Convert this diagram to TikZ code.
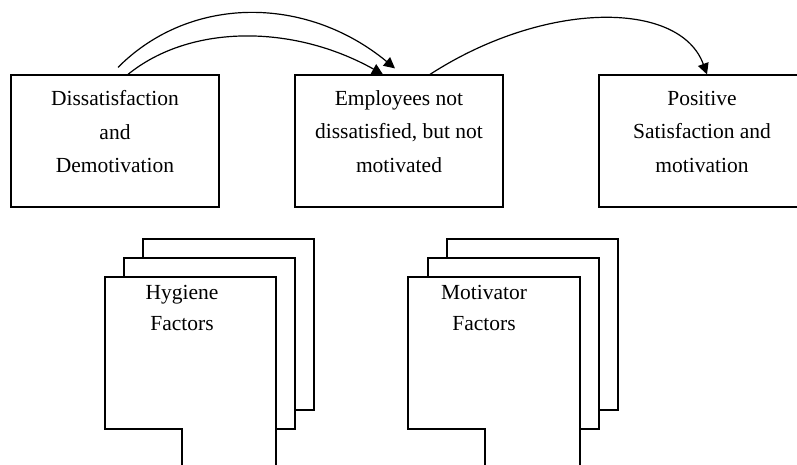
\documentclass[tikz,border=0pt]{standalone}
\usepackage{fontspec}
\setmainfont{Liberation Serif}
\usepackage{tikz}
\usetikzlibrary{positioning,arrows.meta}
\tikzstyle{state} = [rectangle, draw=black, line width=1.2pt, minimum width=208pt, minimum height=132pt, text depth=19pt, align=center, font=\fontsize{21.5}{33.5}\selectfont]
\tikzstyle{sheet} = [draw=black, line width=1.2pt, fill=white]
\tikzstyle{factor} = [align=center, font=\fontsize{21.5}{31}\selectfont]
\tikzstyle{arrow} = [line width=1.2pt, -{Triangle[length=11pt,width=11pt]}]

\begin{document}
\begin{tikzpicture}[x=1pt,y=-1pt]
          \useasboundingbox (0,0) rectangle (797,465);
          \node (dis) [state] at (115,141) {Dissatisfaction\\and\\Demotivation};
          \node (neutral) [state] at (399,141) {Employees not\\dissatisfied, but not\\motivated};
          \node (pos) [state, minimum width=206pt] at (702,141) {Positive\\Satisfaction and\\motivation};
          \draw [arrow] ([xshift=3pt,yshift=7pt]dis.north) .. controls (190,-5) and (306,-5) .. ([xshift=-4pt,yshift=6pt]neutral.north);
          \draw [arrow] ([xshift=13pt]dis.north) .. controls (190,24) and (293,24) .. ([xshift=-16pt]neutral.north);
          \draw [arrow] ([xshift=31pt]neutral.north) .. controls (545,0) and (680,0) .. ([xshift=5pt]pos.north);
          % hygiene stack
          \draw [sheet] (143,239) rectangle ++(171,171);
          \draw [sheet] (124,258) rectangle ++(171,171);
          \draw [sheet] (276,465) -- (276,277) -- (105,277) -- (105,429) -- (182,429) -- (182,465);
          \node (hyg) [factor] at (182,308) {Hygiene\\Factors};
          % motivator stack
          \draw [sheet] (447,239) rectangle ++(171,171);
          \draw [sheet] (428,258) rectangle ++(171,171);
          \draw [sheet] (580,465) -- (580,277) -- (408,277) -- (408,429) -- (485,429) -- (485,465);
          \node (mot) [factor] at (484,308) {Motivator\\Factors};
        \end{tikzpicture}
\end{document}
